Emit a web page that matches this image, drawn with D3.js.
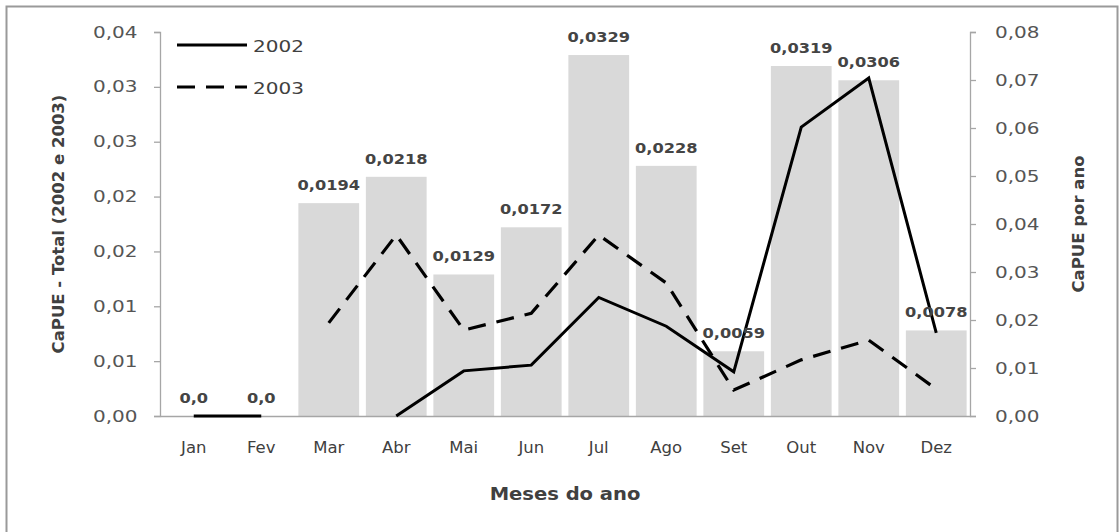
<!DOCTYPE html>
<html>
<head>
<meta charset="utf-8">
<script src="https://cdn.jsdelivr.net/npm/d3@7"></script>
<style>
  body { margin: 0; background: #fff; }
  text { font-family: "DejaVu Sans", sans-serif; }
</style>
</head>
<body>
<div id="chart"></div>
<script>
// months and values
var months = ["Jan", "Fev", "Mar", "Abr", "Mai", "Jun", "Jul", "Ago", "Set", "Out", "Nov", "Dez"];
var totalCapue = [0, 0, 0.0194, 0.0218, 0.0129, 0.0172, 0.0329, 0.0228, 0.0059, 0.0319, 0.0306, 0.0078];
var capue2002 = [0, 0, null, 0, 0.0094, 0.0106, 0.0247, 0.0187, 0.0092, 0.0602, 0.0704, 0.0173];
var capue2003 = [null, null, 0.0194, 0.0377, 0.0179, 0.0214, 0.0377, 0.0277, 0.0054, 0.0117, 0.0158, 0.0056];

var leftTicks = [0, 0.005, 0.01, 0.015, 0.02, 0.025, 0.03, 0.035];
var leftTickLabels = ["0,00", "0,01", "0,01", "0,02", "0,02", "0,03", "0,03", "0,04"];
var rightTicks = [0, 0.01, 0.02, 0.03, 0.04, 0.05, 0.06, 0.07, 0.08];
var rightTickLabels = ["0,00", "0,01", "0,02", "0,03", "0,04", "0,05", "0,06", "0,07", "0,08"];

var W = 1120, H = 532;
var margin = {top: 32, right: 150, bottom: 116, left: 160},
    width = W - margin.left - margin.right,
    height = H - margin.top - margin.bottom;

var svg = d3.select("#chart")
  .append("svg")
    .attr("width", W)
    .attr("height", H);

// outer frame
svg.append("rect")
  .attr("x", 6.5).attr("y", 6.5)
  .attr("width", 1111).attr("height", 560)
  .attr("fill", "none")
  .attr("stroke", "#9a9a9a")
  .attr("stroke-width", 2);

var g = svg.append("g")
  .attr("transform", "translate(" + margin.left + "," + margin.top + ")");

var x = d3.scaleBand()
  .domain(months)
  .range([0, width])
  .paddingInner(0.1)
  .paddingOuter(0.05);

var yL = d3.scaleLinear().domain([0, 0.035]).range([height, 0]);
var yR = d3.scaleLinear().domain([0, 0.08]).range([height, 0]);

var sx = "scale(1.25,1)";

// bars
g.selectAll(".bar")
  .data(totalCapue)
  .enter().append("rect")
    .attr("class", "bar")
    .attr("x", function(d, i) { return x(months[i]); })
    .attr("y", function(d) { return yL(d); })
    .attr("width", x.bandwidth())
    .attr("height", function(d) { return height - yL(d); })
    .attr("fill", "#d9d9d9");

// left axis
var leftAxis = g.append("g")
  .call(d3.axisLeft(yL).tickValues(leftTicks)
    .tickFormat(function(d, i) { return leftTickLabels[i]; })
    .tickSizeOuter(0).tickSize(6).tickPadding(12));
// right axis
var rightAxis = g.append("g")
  .attr("transform", "translate(" + width + ",0)")
  .call(d3.axisRight(yR).tickValues(rightTicks)
    .tickFormat(function(d, i) { return rightTickLabels[i]; })
    .tickSizeOuter(0).tickSize(6).tickPadding(14));
// bottom axis
var bottomAxis = g.append("g")
  .attr("transform", "translate(0," + height + ")")
  .call(d3.axisBottom(x).tickSize(0).tickPadding(26));

[leftAxis, rightAxis, bottomAxis].forEach(function(a) {
  a.select(".domain").attr("stroke", "#a6a6a6").attr("stroke-width", 1.3);
  a.selectAll(".tick line").attr("stroke", "#a6a6a6").attr("stroke-width", 1.3);
});
leftAxis.selectAll("text").attr("font-size", 16).attr("fill", "#555")
  .attr("font-family", "DejaVu Sans").attr("transform", sx);
rightAxis.selectAll("text").attr("font-size", 16).attr("fill", "#555")
  .attr("font-family", "DejaVu Sans").attr("transform", sx);
bottomAxis.selectAll("text").attr("font-size", 15).attr("fill", "#404040")
  .attr("font-family", "Liberation Sans Narrow, Liberation Sans, sans-serif")
  .attr("transform", "scale(1.1,1)");

// lines
var line = d3.line()
  .defined(function(d) { return d !== null; })
  .x(function(d, i) { return x(months[i]) + x.bandwidth() / 2; })
  .y(function(d) { return yR(d); });

g.append("path")
  .datum(capue2003)
  .attr("d", line)
  .attr("fill", "none")
  .attr("stroke", "#000")
  .attr("stroke-width", 3.2)
  .attr("stroke-dasharray", "18,11");

g.append("path")
  .datum(capue2002)
  .attr("d", line)
  .attr("fill", "none")
  .attr("stroke", "#000")
  .attr("stroke-width", 3)
  .attr("stroke-linejoin", "miter");

// bar value labels
function fmtLabel(v) {
  return v === 0 ? "0,0" : v.toFixed(4).replace(".", ",");
}
g.selectAll(".blabel")
  .data(totalCapue)
  .enter().append("text")
    .attr("class", "blabel")
    .attr("transform", function(d, i) {
      return "translate(" + (x(months[i]) + x.bandwidth() / 2) + "," + (yL(d) - 13) + ") " + "scale(1.2,1)";
    })
    .attr("text-anchor", "middle")
    .attr("font-family", "DejaVu Serif")
    .attr("font-weight", "bold")
    .attr("font-size", 13.5)
    .attr("fill", "#444")
    .text(function(d) { return fmtLabel(d); });

// legend
var legend = g.append("g").attr("transform", "translate(17,13)");
var legendItems = [{name: "2002", dash: null}, {name: "2003", dash: "18,11"}];
legendItems.forEach(function(it, i) {
  var row = legend.append("g").attr("transform", "translate(0," + (i * 42) + ")");
  row.append("line")
    .attr("x1", 0).attr("x2", 70).attr("y1", 0).attr("y2", 0)
    .attr("stroke", "#000").attr("stroke-width", 3.2)
    .attr("stroke-dasharray", it.dash);
  row.append("text")
    .attr("transform", "translate(76,7) " + sx)
    .attr("font-size", 16)
    .attr("fill", "#404040")
    .text(it.name);
});

// axis titles
svg.append("text")
  .attr("transform", "translate(64," + (margin.top + height / 2) + ") rotate(-90)")
  .attr("text-anchor", "middle")
  .attr("font-family", "Liberation Sans")
  .attr("font-weight", "bold")
  .attr("font-size", 16.5)
  .attr("fill", "#404040")
  .text("CaPUE - Total (2002 e 2003)");

svg.append("text")
  .attr("transform", "translate(1084," + (margin.top + height / 2) + ") rotate(-90)")
  .attr("text-anchor", "middle")
  .attr("font-family", "Liberation Sans")
  .attr("font-weight", "bold")
  .attr("font-size", 16.5)
  .attr("fill", "#404040")
  .text("CaPUE por ano");

svg.append("text")
  .attr("transform", "translate(" + (margin.left + width / 2) + ",500) scale(1.15,1)")
  .attr("text-anchor", "middle")
  .attr("font-family", "Liberation Sans")
  .attr("font-weight", "bold")
  .attr("font-size", 17)
  .attr("fill", "#404040")
  .text("Meses do ano");
</script>
</body>
</html>
